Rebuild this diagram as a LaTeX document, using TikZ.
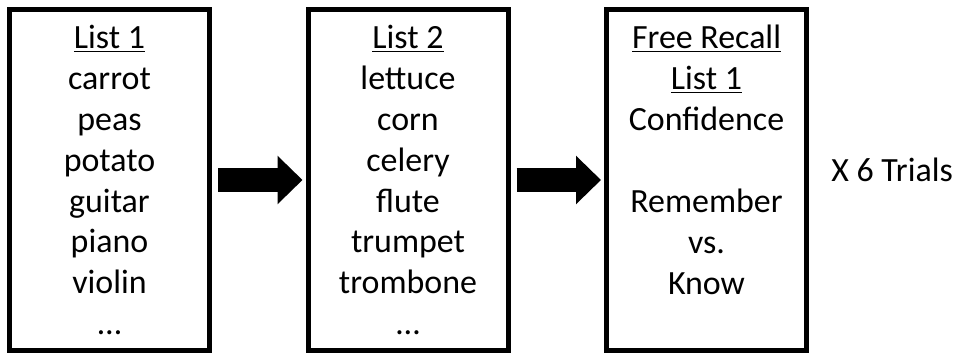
\documentclass[tikz,border=0pt]{standalone}
\usepackage{fontspec}
\setmainfont{Carlito}
\usetikzlibrary{arrows.meta,positioning}

\begin{document}
\begin{tikzpicture}
	\tikzstyle{listbox}=[draw,line width=0.1cm,minimum width=4cm,minimum height=6.82cm,align=center,inner sep=0pt,font=\fontsize{19.3pt}{23.3pt}\selectfont]
	\tikzstyle{block}=[line width=0.47cm,arrows={-Triangle[length=0.5cm,width=0.94cm]},shorten <=0.12cm,shorten >=0.06cm]
	\tikzstyle{label}=[anchor=base west,inner sep=0pt,font=\fontsize{19.3pt}{23.3pt}\selectfont]

	\useasboundingbox (0,0) rectangle (19.06,7.1);

	\node[listbox] (list1) at (2.19,3.5) {\underline{List 1}\\carrot\\peas\\potato\\guitar\\piano\\violin\\…};
	\node[listbox,right=1.87cm of list1] (list2) {\underline{List 2}\\lettuce\\corn\\celery\\flute\\trumpet\\trombone\\…};
	\node[listbox,right=1.87cm of list2] (recall) {\underline{Free Recall}\\\underline{List 1}\\Confidence\\~\\Remember\\vs.\\Know\\~};

	\draw[block] (list1) -- (list2);
	\draw[block] (list2) -- (recall);

	\node[label] (trials) at ([xshift=0.44cm,yshift=-0.04cm]recall.east) {X 6 Trials};
\end{tikzpicture}
\end{document}
